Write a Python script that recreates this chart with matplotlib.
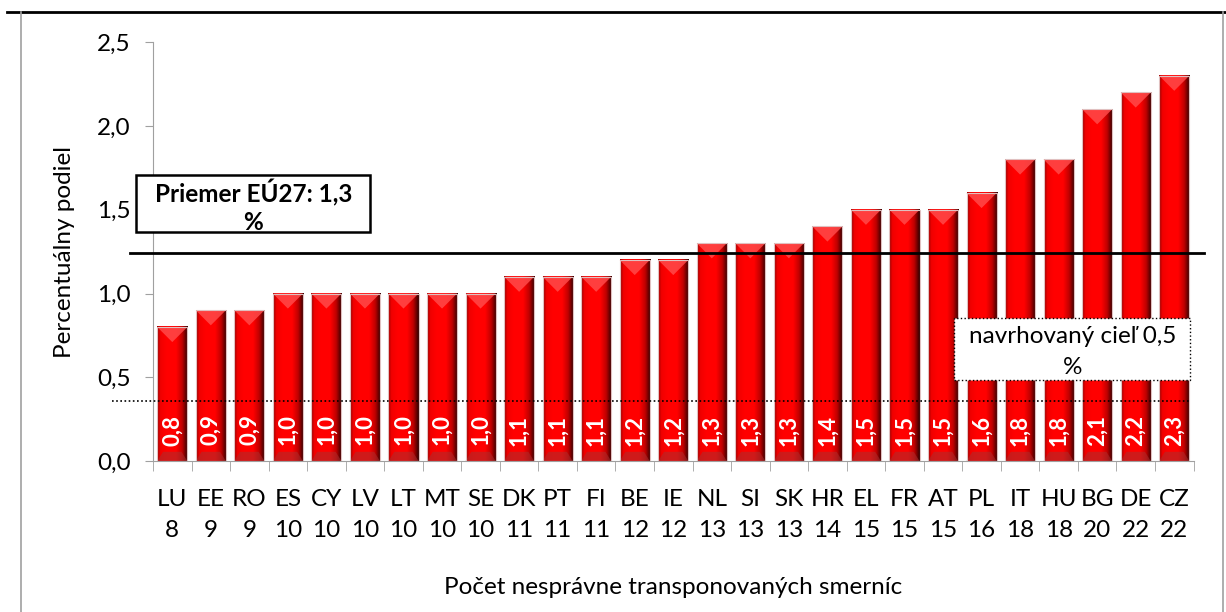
import numpy as np
import matplotlib.pyplot as plt
from matplotlib.colors import LinearSegmentedColormap
from matplotlib.lines import Line2D
from matplotlib.patches import Polygon, Rectangle

countries = ['LU', 'EE', 'RO', 'ES', 'CY', 'LV', 'LT', 'MT', 'SE', 'DK', 'PT', 'FI', 'BE', 'IE',
             'NL', 'SI', 'SK', 'HR', 'EL', 'FR', 'AT', 'PL', 'IT', 'HU', 'BG', 'DE', 'CZ']
counts = [8, 9, 9, 10, 10, 10, 10, 10, 10, 11, 11, 11, 12, 12,
          13, 13, 13, 14, 15, 15, 15, 16, 18, 18, 20, 22, 22]
shares = [0.8, 0.9, 0.9, 1.0, 1.0, 1.0, 1.0, 1.0, 1.0, 1.1, 1.1, 1.1, 1.2, 1.2,
          1.3, 1.3, 1.3, 1.4, 1.5, 1.5, 1.5, 1.6, 1.8, 1.8, 2.1, 2.2, 2.3]
eu_avg_line = 1.24
target_line = 0.36

FONT = ['Lato', 'DejaVu Sans']
plt.rcParams['font.family'] = FONT
FS = 17.5

fig = plt.figure(figsize=(12.26, 6.12), dpi=100)
ax = fig.add_axes([0.1248, 0.2467, 0.9735 - 0.1248, 0.931 - 0.2467])

x = np.arange(len(countries))
w = 0.78
cmap = LinearSegmentedColormap.from_list('bar', [
    (0.0, '#900000'), (0.1, '#f00000'), (0.3, '#ff0000'),
    (0.62, '#ff0000'), (0.82, '#c00000'), (1.0, '#300000')])
grad = np.linspace(0, 1, 64).reshape(1, -1)

for xi, v in zip(x, shares):
    l, r = xi - w / 2, xi + w / 2
    ax.imshow(grad, cmap=cmap, aspect='auto', extent=(l, r, 0, v),
              interpolation='bilinear', zorder=2)
    bev = 0.09
    ax.add_patch(Polygon([(l, v), (r, v), (xi, v - bev)], closed=True,
                         facecolor='#ff4a4a', edgecolor='none', alpha=0.85, zorder=3))
    ax.add_patch(Polygon([(l, 0), (r, 0), (r - 0.15, 0.055), (l + 0.15, 0.055)], closed=True,
                         facecolor='#a83030', edgecolor='none', alpha=0.55, zorder=3))
    ax.add_patch(Rectangle((l, 0), w, v, facecolor='none', edgecolor='#e0c0c0',
                           linewidth=0.8, zorder=4))
    ax.text(xi, 0.185, f'{v:.1f}'.replace('.', ','), rotation=90, ha='center', va='center',
            color='white', fontsize=16, fontweight='bold', zorder=5)

ax.set_xlim(-0.5, len(countries) - 0.5)
ax.set_ylim(0, 2.5)
ax.set_yticks(np.arange(0, 2.51, 0.5))
ax.set_yticklabels([f'{t:.1f}'.replace('.', ',') for t in np.arange(0, 2.51, 0.5)], fontsize=FS)
ax.set_xticks(x)
ax.set_xticklabels([f'{c}\n{n}' for c, n in zip(countries, counts)], fontsize=FS,
                   linespacing=1.6)
ax.set_xticks(np.arange(-0.5, len(countries), 1), minor=True)
ax.tick_params(axis='x', which='major', length=0, pad=20)
ax.tick_params(axis='x', which='minor', length=7, color='#a0a0a0')
ax.tick_params(axis='y', length=6, color='#a0a0a0', pad=10)
for s in ['top', 'right']:
    ax.spines[s].set_visible(False)
for s in ['left', 'bottom']:
    ax.spines[s].set_color('#a0a0a0')

ax.set_ylabel('Percentuálny podiel', fontsize=FS, labelpad=16)
ax.set_xlabel('Počet nesprávne transponovaných smerníc', fontsize=FS, labelpad=26)

ax.plot([-1.09, 26.78], [eu_avg_line] * 2, color='black', lw=2, clip_on=False, zorder=6)
ax.plot([-1.556, 26.41], [target_line] * 2, color='black', lw=1.2, ls=(0, (1, 1.5)),
        clip_on=False, zorder=6)

# average box
ax.add_patch(Rectangle((-0.933, 1.366), 5.138 + 0.933, 1.706 - 1.366, facecolor='white',
                       edgecolor='black', lw=1.8, clip_on=False, zorder=7))
ax.text(2.10, 1.60, 'Priemer EÚ27: 1,3', fontsize=FS, fontweight='bold', ha='center',
        va='center', zorder=8)
ax.text(2.10, 1.425, '%', fontsize=FS, fontweight='bold', ha='center', va='center', zorder=8)

# target box
ax.add_patch(Rectangle((20.29, 0.483), 26.42 - 20.29, 0.853 - 0.483, facecolor='white',
                       edgecolor='black', lw=1, ls=':', clip_on=False, zorder=7))
ax.text(23.36, 0.745, 'navrhovaný cieľ 0,5', fontsize=FS, ha='center', va='center', zorder=8)
ax.text(23.36, 0.56, '%', fontsize=FS, ha='center', va='center', zorder=8)

fig.add_artist(Line2D([7 / 1226, 1], [1 - 12 / 612] * 2, color='black', lw=2))
fig.add_artist(Line2D([21 / 1226] * 2, [0, 1 - 12 / 612], color='#a0a0a0', lw=1.2))
fig.add_artist(Line2D([1223 / 1226] * 2, [0, 1 - 12 / 612], color='#a0a0a0', lw=1.2))

fig.savefig('out.png', dpi=100)
